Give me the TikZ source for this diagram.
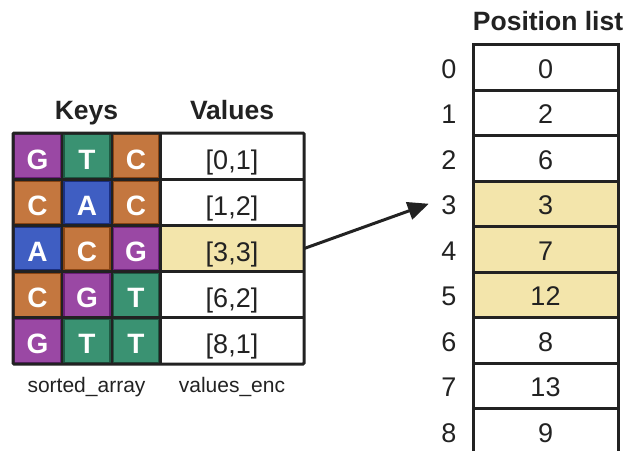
\documentclass[tikz,border=0pt]{standalone}
\usepackage{fontspec}
\setmainfont{Liberation Sans}
\usetikzlibrary{arrows.meta}
\definecolor{ink}{HTML}{222222}
\definecolor{gfill}{HTML}{9A48A4}\definecolor{gedge}{HTML}{6A1F78}
\definecolor{tfill}{HTML}{3A9272}\definecolor{tedge}{HTML}{1E5A43}
\definecolor{cfill}{HTML}{C4773F}\definecolor{cedge}{HTML}{8A4513}
\definecolor{afill}{HTML}{3F5EC2}\definecolor{aedge}{HTML}{1A2F80}
\definecolor{hilite}{HTML}{F3E5AB}
\tikzset{
  base/.style={inner sep=0pt, font=\fontsize{27}{30}\selectfont},
  keycell/.style={inner sep=0pt, minimum width=46pt, minimum height=43pt, line width=1.4pt,
    text=white, font=\fontsize{28}{30}\selectfont\bfseries, text height=26pt, text depth=0pt},
  nG/.style={keycell, fill=gfill, draw=gedge},
  nT/.style={keycell, fill=tfill, draw=tedge},
  nC/.style={keycell, fill=cfill, draw=cedge},
  nA/.style={keycell, fill=afill, draw=aedge},
  valcell/.style={base, minimum width=144pt, minimum height=46.2pt, text=ink,
    text height=26pt, text depth=0pt},
  poscell/.style={base, draw=ink, line width=3pt, minimum width=145pt, minimum height=45.5pt,
    text=ink, text height=21.5pt, text depth=0pt},
  idx/.style={base, minimum width=40pt, text=ink, text height=21.5pt, text depth=0pt},
  title/.style={inner sep=0pt, anchor=base, font=\fontsize{26.5}{30}\selectfont\bfseries, text=ink},
  caption/.style={inner sep=0pt, anchor=base, font=\fontsize{21}{24}\selectfont, text=ink},
  grid/.style={draw=ink, line width=3pt},
}
\begin{document}
\begin{tikzpicture}[x=1pt, y=-1pt]
\useasboundingbox (0,0) rectangle (626,450);
\clip (0,0) rectangle (626,450);

% headings
\node[title] (keys) at (86.5,119) {Keys};
\node[title] (values) at (232,119) {Values};
\node[title] (poslist) at (548,30) {Position list};

% key table: three base columns per row
\node[nG] (k00) at (37.5,156.1) {G};
\node[nT] (k01) at (87,156.1) {T};
\node[nC] (k02) at (136,156.1) {C};
\node[nC] (k10) at (37.5,202.3) {C};
\node[nA] (k11) at (87,202.3) {A};
\node[nC] (k12) at (136,202.3) {C};
\node[nA] (k20) at (37.5,248.5) {A};
\node[nC] (k21) at (87,248.5) {C};
\node[nG] (k22) at (136,248.5) {G};
\node[nC] (k30) at (37.5,294.7) {C};
\node[nG] (k31) at (87,294.7) {G};
\node[nT] (k32) at (136,294.7) {T};
\node[nG] (k40) at (37.5,340.9) {G};
\node[nT] (k41) at (87,340.9) {T};
\node[nT] (k42) at (136,340.9) {T};

% value column
\node[valcell] (v0) at (232,156.1) {[0,1]};
\node[valcell] (v1) at (232,202.3) {[1,2]};
\node[valcell, fill=hilite] (v2) at (232,248.5) {[3,3]};
\node[valcell] (v3) at (232,294.7) {[6,2]};
\node[valcell] (v4) at (232,340.9) {[8,1]};

% grid lines of the key/value table
\draw[draw=ink, line width=2pt] (62,133) -- (62,364) (111.5,133) -- (111.5,364);
\draw[grid] (160,133) -- (160,364);
\foreach \yy in {179.2,225.4,271.6,317.8} \draw[grid] (13,\yy) -- (304,\yy);
\draw[grid, rounded corners=1pt] (13,133) rectangle (304,364);

\node[caption] (cap1) at (86.5,392) {sorted\_array};
\node[caption] (cap2) at (232,392) {values\_enc};

% position list with its indices
\foreach \v [count=\i from 0] in {0,2,6,3,7,12,8,13,9} {
  \pgfmathsetmacro{\yc}{44.5+45.5*\i+22.75}
  \node[idx] (i\i) at (449,\yc) {\i};
}
\node[poscell] (p0) at (545.5,67.25) {0};
\node[poscell] (p1) at (545.5,112.75) {2};
\node[poscell] (p2) at (545.5,158.25) {6};
\node[poscell, fill=hilite] (p3) at (545.5,203.75) {3};
\node[poscell, fill=hilite] (p4) at (545.5,249.25) {7};
\node[poscell, fill=hilite] (p5) at (545.5,294.75) {12};
\node[poscell] (p6) at (545.5,340.25) {8};
\node[poscell] (p7) at (545.5,385.75) {13};
\node[poscell] (p8) at (545.5,431.25) {9};

% pointer from the looked-up value into the list
\draw[draw=ink, line width=3pt, -{Triangle[length=21pt,width=18pt]}] (v2.east) -- (i3.west);
\end{tikzpicture}
\end{document}
